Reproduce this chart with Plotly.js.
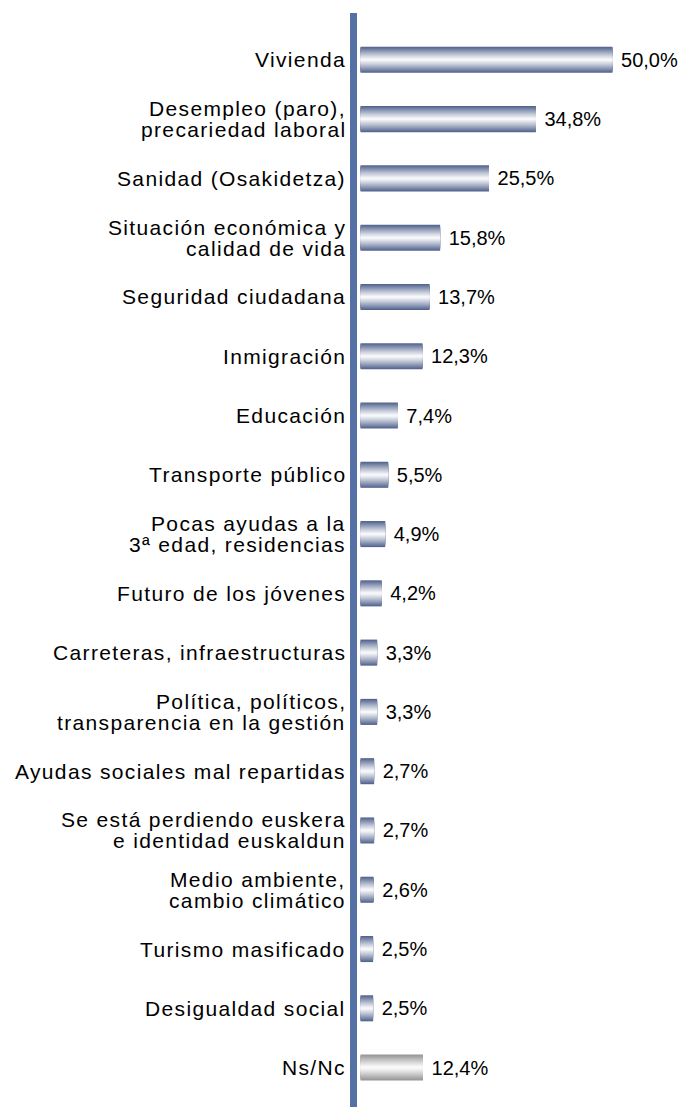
<!DOCTYPE html>
<html>
<head>
<meta charset="utf-8">
<script src="https://cdn.plot.ly/plotly-3.0.1.min.js"></script>
<style>
html,body{margin:0;padding:0;background:#ffffff;}
.annotation-text{letter-spacing:1.35px;}
</style>
</head>
<body>
<div id="chart" style="width:681px;height:1107px;"></div>
<script>
// ---- data ----
const categories = [
  "Vivienda",
  "Desempleo (paro),<br>precariedad laboral",
  "Sanidad (Osakidetza)",
  "Situación económica y<br>calidad de vida",
  "Seguridad ciudadana",
  "Inmigración",
  "Educación",
  "Transporte público",
  "Pocas ayudas a la<br>3ª edad, residencias",
  "Futuro de los jóvenes",
  "Carreteras, infraestructuras",
  "Política, políticos,<br>transparencia en la gestión",
  "Ayudas sociales mal repartidas",
  "Se está perdiendo euskera<br>e identidad euskaldun",
  "Medio ambiente,<br>cambio climático",
  "Turismo masificado",
  "Desigualdad social",
  "Ns/Nc"
];
const values = [50.0, 34.8, 25.5, 15.8, 13.7, 12.3, 7.4, 5.5, 4.9, 4.2, 3.3, 3.3, 2.7, 2.7, 2.6, 2.5, 2.5, 12.4];
const noAnswerLabel = "Ns/Nc";

// ---- styling ----
const blueEdge = [84, 101, 143];
const grayEdge = [150, 150, 150];
const barWidth = 0.44;
const nLayers = 13;
const fontFam = "'Liberation Sans', Arial, sans-serif";

function mix(edge, t) {
  const c = edge.map(v => Math.round(255 + (v - 255) * t));
  return `rgb(${c[0]},${c[1]},${c[2]})`;
}

const traces = [];
for (let k = 0; k < nLayers; k++) {
  const t = Math.pow((nLayers - k) / nLayers, 1.15);
  const colors = categories.map(c => mix(c === noAnswerLabel ? grayEdge : blueEdge, t));
  const tr = {
    type: 'bar',
    orientation: 'h',
    y: categories,
    x: values,
    width: barWidth * (nLayers - k) / nLayers,
    marker: {color: colors, line: {width: 0}},
    hoverinfo: 'skip',
    showlegend: false
  };
  if (k === 0) {
    tr.texttemplate = '\u00a0%{x:.1f}%';
    tr.textposition = 'outside';
    tr.textfont = {family: fontFam, size: 20, color: '#000000'};
    tr.cliponaxis = false;
  } else {
    tr.textposition = 'none';
  }
  traces.push(tr);
}

// category labels as annotations (tight line spacing)
const annotations = [];
categories.forEach(cat => {
  const lines = cat.split('<br>');
  const n = lines.length;
  lines.forEach((ln, i) => {
    annotations.push({
      xref: 'paper', yref: 'y',
      x: 0, y: cat,
      xanchor: 'right', yanchor: 'middle',
      xshift: -9,
      yshift: ((n - 1) / 2 - i) * 21,
      text: ln,
      showarrow: false,
      font: {family: fontFam, size: 21, color: '#000000'}
    });
  });
});

const layout = {
  width: 681, height: 1107,
  margin: {l: 357, r: 0, t: 13, b: 0, pad: 0},
  paper_bgcolor: '#ffffff',
  plot_bgcolor: '#ffffff',
  barmode: 'overlay',
  separators: ',.',
  hovermode: false,
  showlegend: false,
  xaxis: {
    range: [-0.694, 63.6],
    showgrid: false, zeroline: false, showticklabels: false, ticks: '', showline: false
  },
  yaxis: {
    type: 'category',
    categoryorder: 'array', categoryarray: categories,
    range: [17.665, -0.79],
    showgrid: false, zeroline: false, showticklabels: false, ticks: '',
    showline: true, linewidth: 7, linecolor: '#5470a4', layer: 'above traces'
  },
  annotations: annotations
};

Plotly.newPlot('chart', traces, layout, {staticPlot: true, displayModeBar: false});
</script>
</body>
</html>
